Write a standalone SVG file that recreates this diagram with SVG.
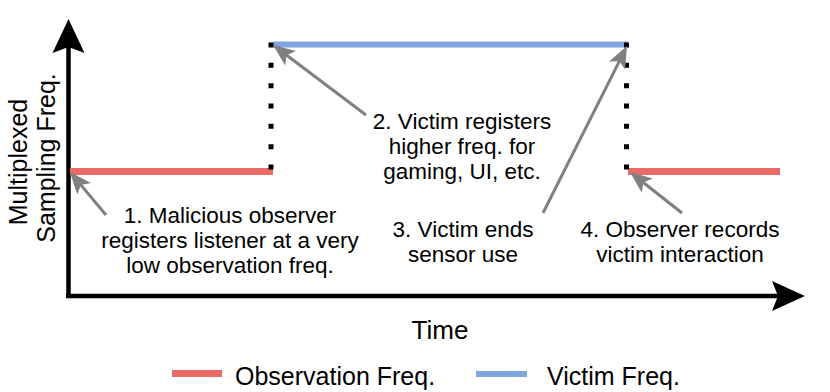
<svg xmlns="http://www.w3.org/2000/svg" width="830" height="392" viewBox="0 0 830 392">
<style>
text{font-family:"Liberation Sans",Arial,sans-serif;fill:#000}
.ann{font-size:22.5px;text-anchor:middle}
.lab{font-size:25px}
.axis{stroke:#000;stroke-width:4.5;fill:none}
.head{fill:#000}
.obs{stroke:#EA6B66;stroke-width:7;fill:none}
.vic{stroke:#7EA6E0;stroke-width:6;fill:none}
.dots{stroke:#000;stroke-width:5;stroke-dasharray:5 15.33;fill:none}
.ptr{stroke:#808080;stroke-width:3;fill:none;marker-end:url(#ah)}
</style>
<defs>
<marker id="ah" markerUnits="userSpaceOnUse" markerWidth="24" markerHeight="20" viewBox="0 -10 24 20" refX="14" refY="0" orient="auto" overflow="visible">
<path d="M0,-9 L22,0 L0,9 L5,0 Z" fill="#808080"/>
</marker>
</defs>
<rect width="830" height="392" fill="#fff"/>
<g id="axes">
<line class="axis" x1="68.5" y1="298" x2="68.5" y2="42"/>
<path class="head" d="M68.5,19 L84.5,53 L68.5,47 L52.5,53 Z"/>
<line class="axis" x1="66" y1="296" x2="785" y2="296"/>
<path class="head" d="M805,296 L772,281 L778,296 L772,311 Z"/>
</g>
<g id="y-label">
<text class="lab" transform="translate(27,162) rotate(-90)" text-anchor="middle">Multiplexed</text>
<text class="lab" transform="translate(55,158) rotate(-90)" text-anchor="middle">Sampling Freq.</text>
</g>
<g id="x-label">
<text x="440" y="339" font-size="26" text-anchor="middle">Time</text>
</g>
<g id="series">
<line class="obs" x1="70" y1="171.5" x2="273" y2="171.5"/>
<line class="vic" x1="273" y1="44.5" x2="628" y2="44.5"/>
<line class="obs" x1="628" y1="171.5" x2="780" y2="171.5"/>
<line class="dots" x1="271" y1="42.5" x2="271" y2="172"/>
<line class="dots" x1="626.5" y1="42.5" x2="626.5" y2="172"/>
</g>
<g id="connectors">
<line class="ptr" x1="106" y1="215" x2="75.1" y2="178.1"/>
<line class="ptr" x1="366" y1="115" x2="279.4" y2="49.8"/>
<line class="ptr" x1="543" y1="213" x2="623.4" y2="53.1"/>
<line class="ptr" x1="682" y1="213" x2="636.3" y2="177"/>
</g>
<g id="note1">
<text class="ann" x="230" y="223">1. Malicious observer</text>
<text class="ann" x="230" y="248">registers listener at a very</text>
<text class="ann" x="230" y="273">low observation freq.</text>
</g>
<g id="note2">
<text class="ann" x="462" y="129">2. Victim registers</text>
<text class="ann" x="462" y="154">higher freq. for</text>
<text class="ann" x="462" y="179">gaming, UI, etc.</text>
</g>
<g id="note3">
<text class="ann" x="463" y="237">3. Victim ends</text>
<text class="ann" x="463" y="262">sensor use</text>
</g>
<g id="note4">
<text class="ann" x="680" y="237">4. Observer records</text>
<text class="ann" x="680" y="262">victim interaction</text>
</g>
<g id="legend">
<line class="obs" x1="172" y1="373.5" x2="222" y2="373.5"/>
<text class="lab" x="235" y="385">Observation Freq.</text>
<line class="vic" x1="476" y1="374" x2="527" y2="374" stroke-width="7"/>
<text class="lab" x="547" y="385">Victim Freq.</text>
</g>
</svg>
